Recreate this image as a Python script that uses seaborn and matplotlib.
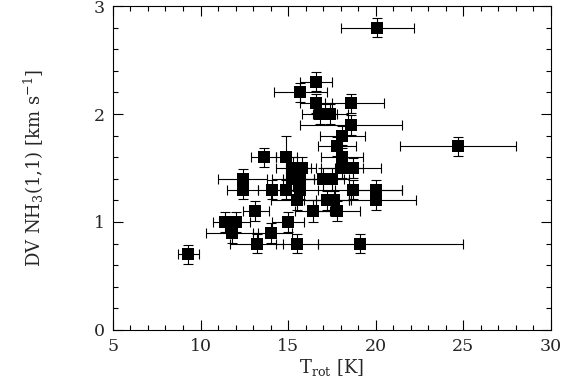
import numpy as np
import pandas as pd
import matplotlib
matplotlib.use("Agg")
import matplotlib.pyplot as plt
from matplotlib.ticker import MultipleLocator
import seaborn as sns

# ---------------------------------------------
# DATA
# ---------------------------------------------
t_rot = [9.3, 11.4, 12.0, 11.8, 13.2, 14.0, 15.5, 19.1, 13.1, 15.0,
         16.4, 17.8, 12.4, 12.4, 14.1, 14.9, 15.7, 15.5, 17.2, 17.6,
         20.0, 20.0, 18.7, 15.3, 15.7, 17.0, 17.5, 15.3, 15.8, 18.1,
         18.7, 13.6, 14.9, 18.1, 17.8, 24.7, 18.1, 18.6, 16.8, 17.4,
         16.6, 18.6, 15.7, 16.6, 20.1]
dv = [0.7, 1.0, 1.0, 0.9, 0.8, 0.9, 0.8, 0.8, 1.1, 1.0,
      1.1, 1.1, 1.3, 1.4, 1.3, 1.3, 1.3, 1.2, 1.2, 1.2,
      1.2, 1.3, 1.3, 1.4, 1.4, 1.4, 1.4, 1.5, 1.5, 1.5,
      1.5, 1.6, 1.6, 1.6, 1.7, 1.7, 1.8, 1.9, 2.0, 2.0,
      2.1, 2.1, 2.2, 2.3, 2.8]
t_err_lo = [0.6, 0.7, 0.8, 1.5, 1.5, 1.0, 1.2, 2.4, 0.7, 0.9,
            1.0, 1.3, 0.9, 1.4, 0.8, 0.8, 1.0, 1.5, 1.3, 1.0,
            1.5, 1.2, 1.0, 1.2, 1.0, 1.2, 1.0, 1.0, 0.8, 1.2,
            1.0, 0.7, 0.6, 1.2, 1.1, 3.3, 1.3, 2.9, 1.0, 1.0,
            0.9, 1.5, 1.5, 0.9, 2.1]
t_err_hi = [0.6, 0.7, 0.8, 1.5, 1.5, 1.2, 1.2, 5.9, 0.8, 0.9,
            1.0, 1.3, 0.9, 1.4, 0.8, 0.8, 1.0, 1.5, 1.3, 1.0,
            2.3, 1.5, 2.8, 1.2, 1.0, 1.2, 1.0, 1.0, 0.8, 1.2,
            1.6, 0.7, 0.6, 1.2, 1.1, 3.3, 1.3, 2.9, 1.0, 1.0,
            0.9, 1.9, 1.5, 0.9, 2.1]
dv_err = [0.09, 0.09, 0.09, 0.09, 0.09, 0.09, 0.09, 0.09, 0.09, 0.09,
          0.1, 0.09, 0.09, 0.09, 0.09, 0.09, 0.09, 0.09, 0.09, 0.09,
          0.09, 0.09, 0.09, 0.1, 0.1, 0.1, 0.1, 0.1, 0.1, 0.09,
          0.09, 0.09, 0.2, 0.09, 0.09, 0.09, 0.09, 0.09, 0.09, 0.09,
          0.09, 0.09, 0.09, 0.09, 0.09]

df = pd.DataFrame({"t_rot": t_rot, "dv": dv})

# ---------------------------------------------
# PLOT
# ---------------------------------------------
sns.set_style("ticks")
plt.rcParams["font.family"] = ["DejaVu Serif"]
plt.rcParams["mathtext.fontset"] = "dejavuserif"

fig = plt.figure(figsize=(5.62, 3.81), dpi=100)
ax = fig.add_axes([0.201, 0.134, 0.779, 0.850])

ax.errorbar(t_rot, dv, xerr=[t_err_lo, t_err_hi], yerr=dv_err,
            fmt="none", ecolor="black", elinewidth=0.8,
            capsize=3.5, capthick=0.8, zorder=2)
sns.scatterplot(data=df, x="t_rot", y="dv", marker="s", s=70,
                color="black", edgecolor="black", linewidth=0,
                ax=ax, zorder=3)

ax.set_xlim(5, 30)
ax.set_ylim(0, 3)
ax.xaxis.set_major_locator(MultipleLocator(5))
ax.xaxis.set_minor_locator(MultipleLocator(1))
ax.yaxis.set_major_locator(MultipleLocator(1))
ax.yaxis.set_minor_locator(MultipleLocator(0.2))
ax.tick_params(which="both", direction="in", top=True, right=True,
               labelsize=12.5, color="black", width=0.8)
ax.tick_params(which="major", length=7, pad=6)
ax.tick_params(which="minor", length=3.5)
for s in ax.spines.values():
    s.set_visible(True)
    s.set_linewidth(0.8)
    s.set_color("black")

ax.set_xlabel(r"T$_{\rm rot}$ [K]", fontsize=13, labelpad=1)
ax.set_ylabel(r"DV NH$_3$(1,1) [km s$^{-1}$]", fontsize=13, labelpad=34)

fig.savefig("out.png", dpi=100)
